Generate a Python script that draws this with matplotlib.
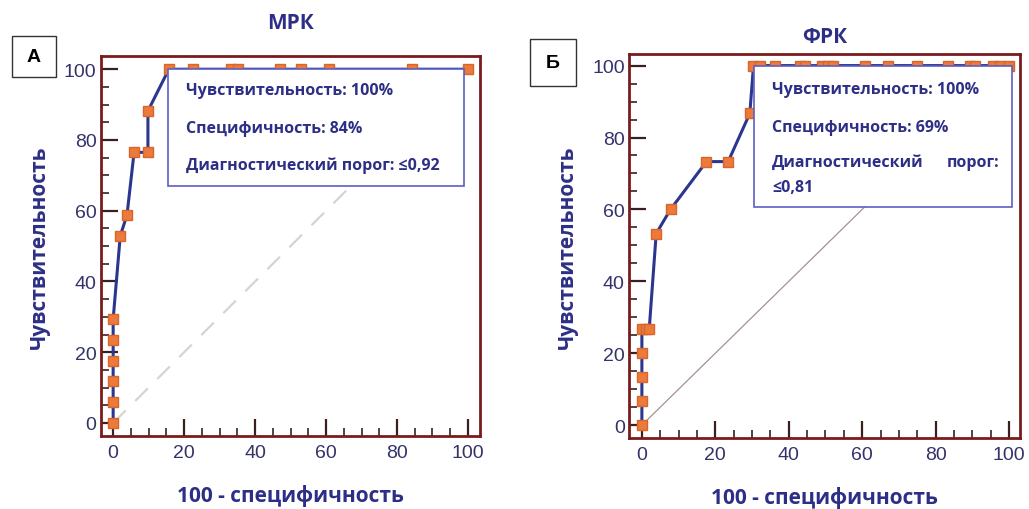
import matplotlib.pyplot as plt
from matplotlib.ticker import MultipleLocator

# ---- data: МРК (panel А) ----
mrk_x = [0, 0, 0, 0, 0, 0, 2.0, 3.9, 5.9, 9.8, 9.8, 15.7,
         22.6, 33.3, 35.3, 47.1, 52.9, 60.8, 84.3, 100]
mrk_y = [0, 5.9, 11.8, 17.6, 23.5, 29.4, 52.9, 58.8, 76.5, 76.5, 88.2, 100,
         100, 100, 100, 100, 100, 100, 100, 100]
mrk_text = ["Чувствительность: 100%", "Специфичность: 84%", "Диагностический порог: ≤0,92"]

# ---- data: ФРК (panel Б) ----
frk_x = [0, 0, 0, 0, 0, 1.0, 2.0, 3.9, 7.8, 17.6, 23.5, 29.4,
         30.4, 32.3, 36.3, 43.1, 44.4, 49.0, 50.8, 52.1, 60.8, 67.1,
         75.0, 83.3, 89.4, 90.7, 95.7, 97.5, 100]
frk_y = [0, 6.7, 13.3, 20.0, 26.7, 26.7, 26.7, 53.3, 60.0, 73.3, 73.3, 86.7,
         100, 100, 100, 100, 100, 100, 100, 100, 100, 100,
         100, 100, 100, 100, 100, 100, 100]
frk_text = ["Чувствительность: 100%", "Специфичность: 69%", "Диагностический", "порог:", "≤0,81"]

NAVY = '#2d2f86'
LINE = '#2b3690'
ORANGE = '#ec7a3c'
FRAME = '#7a1c1c'
TICKC = '#3a1f1f'

plt.rcParams['font.family'] = ['Open Sans', 'DejaVu Sans']

fig = plt.figure(figsize=(10.29, 5.10), dpi=100)
ax1 = fig.add_axes([0.0979, 0.143, 0.3686, 0.745])
ax2 = fig.add_axes([0.6113, 0.139, 0.380, 0.753])


def style(ax, xlim, ylim):
    ax.set_xlim(*xlim)
    ax.set_ylim(*ylim)
    ax.xaxis.set_major_locator(MultipleLocator(20))
    ax.yaxis.set_major_locator(MultipleLocator(20))
    ax.xaxis.set_minor_locator(MultipleLocator(5))
    ax.yaxis.set_minor_locator(MultipleLocator(5))
    ax.tick_params(which='major', direction='in', length=12, width=1.6, color=TICKC,
                   labelsize=14, labelcolor='#33336a')
    ax.tick_params(which='minor', direction='in', length=6, width=1.2, color=TICKC)
    ax.tick_params(axis='x', which='major', pad=6)
    ax.tick_params(axis='y', which='major', pad=3)
    for lab in ax.get_xticklabels() + ax.get_yticklabels():
        lab.set_family(['Liberation Sans', 'DejaVu Sans'])
    for s in ax.spines.values():
        s.set_color(FRAME)
        s.set_linewidth(2)
    ax.set_ylabel('Чувствительность', fontsize=15, fontweight='bold', color=NAVY, labelpad=10)
    ax.set_xlabel('100 - специфичность', fontsize=15, fontweight='bold', color=NAVY, labelpad=16)


def panel_tag(x0, y0, w, h, letter):
    fig.patches.append(plt.Rectangle((x0, y0), w, h, transform=fig.transFigure,
                                     facecolor='white', edgecolor='#333333', lw=1.0))
    fig.text(x0 + w / 2, y0 + h / 2, letter, fontsize=14, fontweight='bold', color='black',
             family=['Liberation Sans', 'DejaVu Sans'], va='center', ha='center')


# ---- panel А ----
style(ax1, (-3.5, 103.4), (-3.7, 103.7))
ax1.plot([0, 100], [0, 100], color='#d4d4d4', lw=1.6, ls=(0, (8, 6)), zorder=1)
ax1.plot(mrk_x, mrk_y, color=LINE, lw=2.2, marker='s', markersize=6.5,
         markerfacecolor=ORANGE, markeredgecolor='#d9652a', zorder=3)
ax1.set_title('МРК', fontsize=15, fontweight='bold', color=NAVY, pad=20)
box1 = plt.Rectangle((15.5, 67), 83.5, 33, facecolor='white', edgecolor='#5b5fc4',
                     lw=1.2, zorder=4)
ax1.add_patch(box1)
for i, t in enumerate(mrk_text):
    ax1.text(20.5, 94 - i * 10.5, t, fontsize=11.5, fontweight='bold', color=NAVY,
             va='center', ha='left', zorder=5)
panel_tag(0.0117, 0.847, 0.0428, 0.0804, 'А')

# ---- panel Б ----
style(ax2, (-3.5, 103.0), (-3.6, 103.2))
ax2.plot([0, 100], [0, 100], color='#a89090', lw=0.9, zorder=1)
ax2.plot(frk_x, frk_y, color=LINE, lw=2.2, marker='s', markersize=6.5,
         markerfacecolor=ORANGE, markeredgecolor='#d9652a', zorder=3)
ax2.set_title('ФРК', fontsize=15, fontweight='bold', color=NAVY, pad=9)
box2 = plt.Rectangle((30.5, 60.7), 70.3, 39.3, facecolor='white', edgecolor='#5b5fc4',
                     lw=1.2, zorder=4)
ax2.add_patch(box2)
ax2.text(35.5, 93.5, frk_text[0], fontsize=11.5, fontweight='bold', color=NAVY,
         va='center', ha='left', zorder=5)
ax2.text(35.5, 83, frk_text[1], fontsize=11.5, fontweight='bold', color=NAVY,
         va='center', ha='left', zorder=5)
ax2.text(35.5, 73.2, frk_text[2], fontsize=11.5, fontweight='bold', color=NAVY,
         va='center', ha='left', zorder=5)
ax2.text(97.5, 73.2, frk_text[3], fontsize=11.5, fontweight='bold', color=NAVY,
         va='center', ha='right', zorder=5)
ax2.text(35.5, 66.2, frk_text[4], fontsize=11.5, fontweight='bold', color=NAVY,
         va='center', ha='left', zorder=5)
panel_tag(0.515, 0.8294, 0.0447, 0.0922, 'Б')

fig.savefig('out.png', dpi=100)
